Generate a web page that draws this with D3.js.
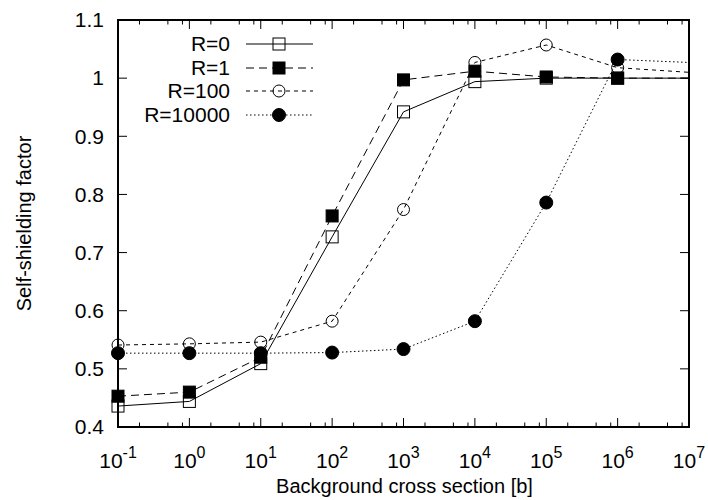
<!DOCTYPE html>
<html>
<head>
<meta charset="UTF-8">
<title>Self-shielding factor</title>
<script src="https://cdn.jsdelivr.net/npm/d3@7"></script>
<style>
	body { margin: 0; background: #fff; }
	svg { display: block; font-family: "Liberation Sans", Arial, sans-serif; }
	.tick-label { font-size: 21px; fill: #000; }
	.title { font-size: 20px; fill: #000; }
	.legend text { font-size: 21px; }
	.series { fill: none; stroke: #000; stroke-width: 1px; }
</style>
</head>
<body>
<svg id="chart" width="708" height="500"></svg>
<script>
// background cross section [b]
const sigma = [1e-1, 1e0, 1e1, 1e2, 1e3, 1e4, 1e5, 1e6, 1e7, 1e8];

const r0     = [0.436, 0.444, 0.509, 0.727, 0.942, 0.994, 1.000, 1.000, 1.000, 1.000];
const r1     = [0.453, 0.460, 0.520, 0.763, 0.997, 1.012, 1.002, 1.000, 1.000, 1.000];
const r100   = [0.541, 0.543, 0.546, 0.582, 0.774, 1.027, 1.057, 1.018, 1.010, 1.003];
const r10000 = [0.527, 0.527, 0.527, 0.528, 0.534, 0.582, 0.786, 1.032, 1.027, 1.022];

const seriesNames = ['R=0', 'R=1', 'R=100', 'R=10000'];
const yTicks = [0.4, 0.5, 0.6, 0.7, 0.8, 0.9, 1, 1.1];
const xExponents = [-1, 0, 1, 2, 3, 4, 5, 6, 7];

const series = [
	{ name: seriesNames[0], values: r0, dash: null, marker: 'square', filled: false },
	{ name: seriesNames[1], values: r1, dash: '8,5', marker: 'square', filled: true },
	{ name: seriesNames[2], values: r100, dash: '4,4', marker: 'circle', filled: false },
	{ name: seriesNames[3], values: r10000, dash: '1.5,2.5', marker: 'circle', filled: true }
];

const svg = d3.select('#chart');
const box = { left: 118, right: 689, top: 20, bottom: 427 };

const x = d3.scaleLog().domain([1e-1, 1e7]).range([box.left, box.right]);
const y = d3.scaleLinear().domain([0.4, 1.1]).range([box.bottom, box.top]);

svg.append('defs').append('clipPath').attr('id', 'plot-clip')
	.append('rect')
	.attr('x', box.left).attr('y', box.top)
	.attr('width', box.right - box.left).attr('height', box.bottom - box.top);

// minor tick positions (as seen: 2, 5, 8 in each decade)
const minor = [];
for (let e = -1; e < 7; e++) {
	[2, 5, 8].forEach(m => minor.push(m * Math.pow(10, e)));
}
const majors = xExponents.map(e => Math.pow(10, e));

const ticks = svg.append('g').attr('stroke', '#000').attr('stroke-width', 1);
majors.forEach(v => {
	ticks.append('line').attr('x1', x(v)).attr('x2', x(v)).attr('y1', box.bottom).attr('y2', box.bottom - 9);
	ticks.append('line').attr('x1', x(v)).attr('x2', x(v)).attr('y1', box.top).attr('y2', box.top + 9);
});
minor.forEach(v => {
	ticks.append('line').attr('x1', x(v)).attr('x2', x(v)).attr('y1', box.bottom).attr('y2', box.bottom - 4.5);
	ticks.append('line').attr('x1', x(v)).attr('x2', x(v)).attr('y1', box.top).attr('y2', box.top + 4.5);
});
yTicks.forEach(v => {
	ticks.append('line').attr('x1', box.left).attr('x2', box.left + 9).attr('y1', y(v)).attr('y2', y(v));
	ticks.append('line').attr('x1', box.right).attr('x2', box.right - 9).attr('y1', y(v)).attr('y2', y(v));
});

// frame
svg.append('rect')
	.attr('x', box.left).attr('y', box.top)
	.attr('width', box.right - box.left).attr('height', box.bottom - box.top)
	.attr('fill', 'none').attr('stroke', '#000').attr('stroke-width', 2);

// y tick labels
svg.append('g').selectAll('text').data(yTicks).join('text')
	.attr('class', 'tick-label')
	.attr('x', box.left - 14)
	.attr('y', d => y(d))
	.attr('dy', '0.35em')
	.attr('text-anchor', 'end')
	.text(d => d3.format('~g')(d));

// x tick labels: 10^e
const xl = svg.append('g').selectAll('text').data(xExponents).join('text')
	.attr('class', 'tick-label')
	.attr('x', d => x(Math.pow(10, d)))
	.attr('y', 468)
	.attr('text-anchor', 'middle');
xl.append('tspan').text('10');
xl.append('tspan').attr('dy', -10).attr('font-size', 16).text(d => d);

// axis titles
svg.append('text').attr('class', 'title')
	.attr('x', (box.left + box.right) / 2 + 1).attr('y', 493)
	.attr('text-anchor', 'middle')
	.text('Background cross section [b]');
svg.append('text').attr('class', 'title')
	.attr('transform', `translate(31,${(box.top + box.bottom) / 2}) rotate(-90)`)
	.attr('text-anchor', 'middle')
	.text('Self-shielding factor');

function drawMarker(g, s, cx, cy) {
	if (s.marker === 'square') {
		g.append('rect')
			.attr('x', cx - 6).attr('y', cy - 6)
			.attr('width', 12).attr('height', 12)
			.attr('fill', s.filled ? '#000' : 'none')
			.attr('stroke', '#000').attr('stroke-width', 1);
	} else {
		g.append('circle')
			.attr('cx', cx).attr('cy', cy).attr('r', s.filled ? 6.5 : 6)
			.attr('fill', s.filled ? '#000' : 'none')
			.attr('stroke', '#000').attr('stroke-width', 1);
	}
}

const line = d3.line().x(d => x(d[0])).y(d => y(d[1]));

const plot = svg.append('g').attr('clip-path', 'url(#plot-clip)');
series.forEach(s => {
	const pts = sigma.map((v, i) => [v, s.values[i]]);
	plot.append('path')
		.attr('class', 'series')
		.attr('d', line(pts))
		.attr('stroke-dasharray', s.dash);
	const g = svg.append('g');
	pts.filter(p => p[0] < 1e7).forEach(p => drawMarker(g, s, x(p[0]), y(p[1])));
});

// legend
const legendRows = [44, 68, 91, 115];
const legend = svg.append('g').attr('class', 'legend');
series.forEach((s, i) => {
	const ly = legendRows[i];
	legend.append('text')
		.attr('x', 230).attr('y', ly).attr('dy', '0.35em')
		.attr('text-anchor', 'end')
		.text(s.name);
	legend.append('line')
		.attr('class', 'series')
		.attr('x1', 246).attr('x2', 313).attr('y1', ly).attr('y2', ly)
		.attr('stroke-dasharray', s.dash);
	drawMarker(legend, s, 279, ly);
});
</script>
</body>
</html>
